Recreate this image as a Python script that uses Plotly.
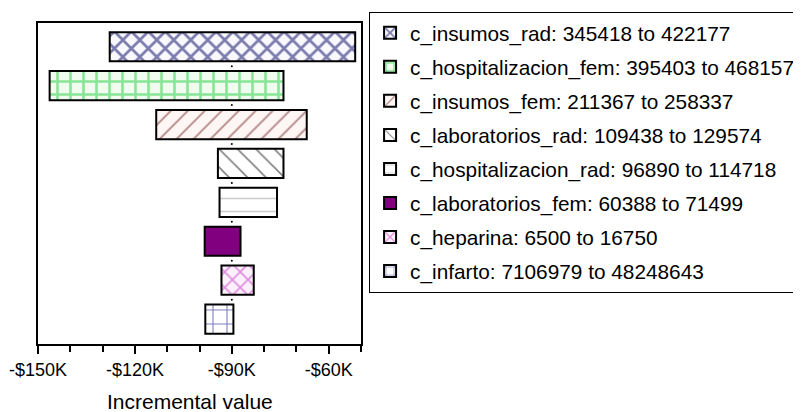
import plotly.graph_objects as go

# ---- data ----
variables = ["c_insumos_rad", "c_hospitalizacion_fem", "c_insumos_fem", "c_laboratorios_rad",
             "c_hospitalizacion_rad", "c_laboratorios_fem", "c_heparina", "c_infarto"]
ranges_text = ["345418 to 422177", "395403 to 468157", "211367 to 258337", "109438 to 129574",
               "96890 to 114718", "60388 to 71499", "6500 to 16750", "7106979 to 48248643"]
low_values = [-127800, -146400, -113400, -94300, -93800, -98400, -93200, -98200]
high_values = [-51800, -74000, -66800, -74000, -76000, -87300, -83200, -89500]
base_value = -90000
tick_values = [-150000, -120000, -90000, -60000]
tick_labels = ["-$150K", "-$120K", "-$90K", "-$60K"]

# ---- styles ----
styles = [
    dict(shape="x", fg="#000060", bg="#f8f8fd", size=12, sol=0.4),
    dict(shape="+", fg="#1fcc3c", bg="#effcef", size=13, sol=0.35),
    dict(shape="/", fg="#6a1818", bg="#fdf6f4", size=12, sol=0.15),
    dict(shape="\\", fg="#000000", bg="#ffffff", size=13, sol=0.12),
    dict(shape="-", fg="#999999", bg="#ffffff", size=13, sol=0.12),
    dict(shape="", fg="#800080", bg="#800080", size=10, sol=0.1),
    dict(shape="x", fg="#c030c0", bg="#fcf0fc", size=11, sol=0.3),
    dict(shape="+", fg="#000080", bg="#ffffff", size=14, sol=0.15),
]

fig = go.Figure()
for name, rt, lo, hi, st in zip(variables, ranges_text, low_values, high_values, styles):
    marker = dict(color=st["bg"], line=dict(color="black", width=2))
    if st["shape"]:
        marker["pattern"] = dict(shape=st["shape"], fgcolor=st["fg"], bgcolor=st["bg"],
                                 size=st["size"], solidity=st["sol"], fillmode="overlay")
    fig.add_trace(go.Bar(
        y=[name], x=[hi - lo], base=[lo], orientation="h",
        name=f"{name}: {rt}", marker=marker, width=0.75, legendgroup=name,
    ))

# base value dots between bars
for i in range(len(variables) - 1):
    fig.add_shape(type="circle", xref="x", yref="y", xsizemode="pixel", ysizemode="pixel",
                  xanchor=base_value, yanchor=i + 0.5, x0=-1, x1=1, y0=-1, y1=1,
                  fillcolor="black", line=dict(width=0), layer="below")

fig.update_layout(
    width=801, height=412,
    margin=dict(l=30, r=448, t=15, b=76, autoexpand=False),
    paper_bgcolor="white", plot_bgcolor="white",
    barmode="overlay",
    font=dict(family="Liberation Sans, Arial, sans-serif", color="black"),
    showlegend=True,
    legend=dict(x=1.025, xanchor="left", y=1.035, yanchor="top",
                bordercolor="black", borderwidth=1, font=dict(size=20.8),
                traceorder="grouped", tracegroupgap=4, maxheight=400),
    xaxis=dict(range=[-150000, -50000], tickmode="array", tickvals=tick_values,
               ticktext=tick_labels, ticks="outside", ticklen=8, tickwidth=1.5,
               tickcolor="black", showline=True, linecolor="black", linewidth=2,
               mirror=True, showgrid=False, zeroline=False, tickfont=dict(size=18),
               minor=dict(tickmode="linear", tick0=-150000, dtick=10000, ticks="outside",
                          ticklen=6, tickwidth=1.5, tickcolor="black", showgrid=False)),
    yaxis=dict(type="category", categoryorder="array", categoryarray=variables,
               range=[7.64, -0.61], showticklabels=False, ticks="", showline=True,
               linecolor="black", linewidth=1.5, mirror=True, showgrid=False, zeroline=False),
    annotations=[dict(text="Incremental value", xref="paper", yref="paper",
                      x=0.47, y=-0.18, xanchor="center", yanchor="middle",
                      showarrow=False, font=dict(size=21))],
)

fig.write_html("out.html")
